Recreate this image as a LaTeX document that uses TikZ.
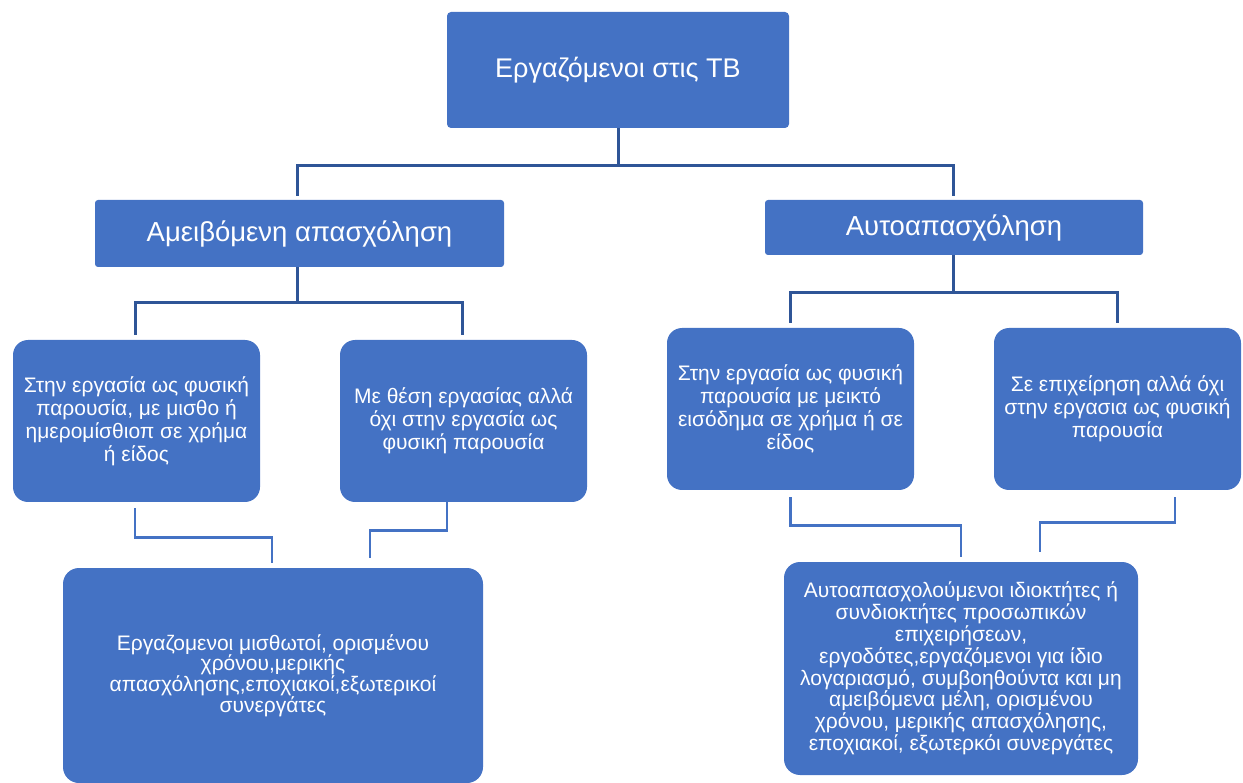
\documentclass[tikz,border=0pt]{standalone}
\usepackage{fontspec}
\setmainfont{Liberation Sans}
\usetikzlibrary{calc}
\definecolor{boxblue}{HTML}{4472C4}
\definecolor{linedark}{HTML}{2F5597}
\begin{document}
\begin{tikzpicture}[x=1pt,y=-1pt,
  box/.style={fill=boxblue,draw=none,text=white,align=center,inner sep=2pt},
  topbox/.style={box,rounded corners=4pt,font=\fontsize{27}{31}\selectfont},
  midbox/.style={box,rounded corners=3pt,font=\fontsize{27.5}{31}\selectfont},
  leafbox/.style={box,rounded corners=15pt,minimum width=247pt,minimum height=162pt,font=\fontsize{21}{23}\selectfont},
  bottombox/.style={box,rounded corners=16pt},
  connup/.style={draw=linedark,line width=3pt},
  connlow/.style={draw=boxblue,line width=2.8pt}]
\useasboundingbox (0,0) rectangle (1243,783);
\node[topbox,minimum width=342pt,minimum height=116pt] (top) at (618,70) {Εργαζόμενοι στις ΤΒ};
\node[midbox,minimum width=409pt,minimum height=67pt] (A) at (299.5,233.5) {Αμειβόμενη απασχόληση};
\node[midbox,minimum width=378pt,minimum height=55pt] (B) at (954,227.5) {Αυτοαπασχόληση};
\node[leafbox] (L1) at (136.5,421) {Στην εργασία ως φυσική\\παρουσία, με μισθο ή\\ημερομίσθιοπ σε χρήμα\\ή είδος};
\node[leafbox] (L2) at (463.5,421) {Με θέση εργασίας αλλά\\όχι στην εργασία ως\\φυσική παρουσία};
\node[leafbox] (R1) at (790.5,409) {Στην εργασία ως φυσική\\παρουσία με μεικτό\\εισόδημα σε χρήμα ή σε\\είδος};
\node[leafbox] (R2) at (1117.5,409) {Σε επιχείρηση αλλά όχι\\στην εργασια ως φυσική\\παρουσία};
\node[bottombox,minimum width=420pt,minimum height=215pt,font=\fontsize{21}{20.7}\selectfont] (BL) at (273,675.5) {Εργαζομενοι μισθωτοί, ορισμένου\\χρόνου,μερικής\\απασχόλησης,εποχιακοί,εξωτερικοί\\συνεργάτες};
\node[bottombox,minimum width=354pt,minimum height=213pt,font=\fontsize{21}{21.8}\selectfont] (BR) at (961,668.5) {Αυτοαπασχολούμενοι ιδιοκτήτες ή\\συνδιοκτήτες προσωπικών\\επιχειρήσεων,\\εργοδότες,εργαζόμενοι για ίδιο\\λογαριασμό, συμβοηθούντα και μη\\αμειβόμενα μέλη, ορισμένου\\χρόνου, μερικής απασχόλησης,\\εποχιακοί, εξωτερκόι συνεργάτες};
% upper connectors
\draw[connup] (top.south) -- ++(0,37) -| ([xshift=-2.5pt,yshift=4pt]A.north);
\draw[connup] (top.south) -- ++(0,37) -| ([xshift=-1pt,yshift=4pt]B.north);
\draw[connup] ([xshift=-2.5pt]A.south) -- ++(0,35) -| ([xshift=-1.5pt,yshift=5pt]L1.north);
\draw[connup] ([xshift=-2.5pt]A.south) -- ++(0,35) -| ([xshift=-1.5pt,yshift=5pt]L2.north);
\draw[connup] ([xshift=-1pt]B.south) -- ++(0,37) -| ([yshift=5pt]R1.north);
\draw[connup] ([xshift=-1pt]B.south) -- ++(0,37) -| ([yshift=5pt]R2.north);
% lower connectors
\draw[connlow] ([xshift=-1.5pt,yshift=-6pt]L1.south) -- ++(0,29) -| ([xshift=-1pt,yshift=5pt]BL.north);
\draw[connlow] ([xshift=-16.5pt]L2.south) -- ++(0,28) -| ([xshift=97pt,yshift=10pt]BL.north);
\draw[connlow] ([yshift=-7pt]R1.south) -- ++(0,28) -| ([yshift=5pt]BR.north);
\draw[connlow] ([xshift=57.5pt,yshift=-7pt]R2.south) -- ++(0,25) -| ([xshift=79pt,yshift=10pt]BR.north);
\end{tikzpicture}
\end{document}
